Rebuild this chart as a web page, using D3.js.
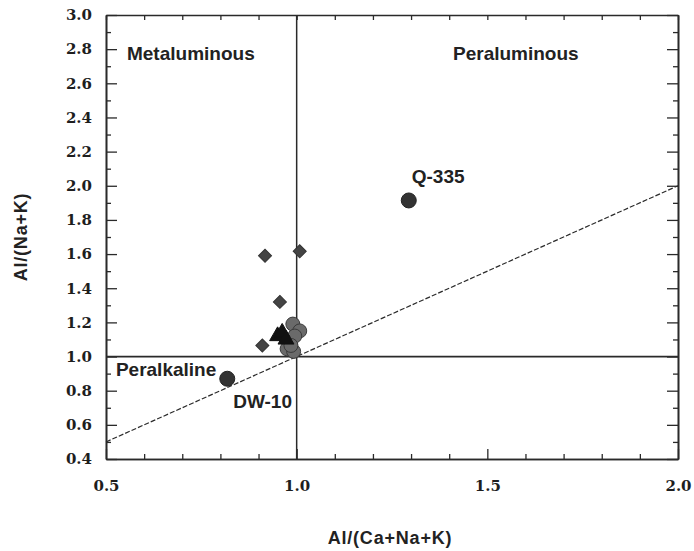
<!DOCTYPE html>
<html>
<head>
<meta charset="utf-8">
<script src="https://cdn.jsdelivr.net/npm/d3@7"></script>
<style>
  html, body { margin: 0; padding: 0; background: #fff; }
  .tick text { font-family: "DejaVu Serif", serif; font-weight: bold; font-size: 15px; fill: #1e1e1e; }
  .lbl { font-family: "Liberation Sans", Arial, sans-serif; font-weight: bold; font-size: 19px; fill: #222; }
</style>
</head>
<body>
<div id="chart"></div>
<script>
// A/CNK vs A/NK diagram

const diamonds = [
  {x: 0.917, y: 1.59},
  {x: 1.008, y: 1.616},
  {x: 0.956, y: 1.32},
  {x: 0.910, y: 1.065}
];

const triangles = [
  {x: 0.950, y: 1.12},
  {x: 0.962, y: 1.14},
  {x: 0.972, y: 1.10}
];

const grayCircles = [
  {x: 0.990, y: 1.19},
  {x: 1.008, y: 1.15},
  {x: 0.995, y: 1.12},
  {x: 0.975, y: 1.045},
  {x: 0.992, y: 1.03},
  {x: 0.985, y: 1.065}
];

const namedSamples = [
  {name: "Q-335", x: 1.294, y: 1.914, dx: 3, dy: -17},
  {name: "DW-10", x: 0.818, y: 0.87, dx: 6, dy: 29}
];

const fields = [
  {name: "Metaluminous", x: 0.555, y: 2.735},
  {name: "Peraluminous", x: 1.41, y: 2.735},
  {name: "Peralkaline", x: 0.526, y: 0.886}
];

const yMajor = [0.4, 0.6, 0.8, 1.0, 1.2, 1.4, 1.6, 1.8, 2.0, 2.2, 2.4, 2.6, 2.8, 3.0];
const yMinor = [0.5, 0.7, 0.9, 1.1, 1.3, 1.5, 1.7, 1.9, 2.1, 2.3, 2.5, 2.7, 2.9];
const xMajor = [0.5, 1.0, 1.5, 2.0];
const xMinor = [0.6, 0.7, 0.8, 0.9, 1.1, 1.2, 1.3, 1.4, 1.6, 1.7, 1.8, 1.9];

const width = 694, height = 551;
const margin = {top: 15, right: 16, bottom: 92, left: 106};

const x = d3.scaleLinear().domain([0.5, 2.0])
    .range([margin.left, width - margin.right]);
const y = d3.scaleLinear().domain([0.4, 3.0])
    .range([height - margin.bottom, margin.top]);

const svg = d3.select("#chart").append("svg")
    .attr("width", width)
    .attr("height", height)
    .attr("viewBox", [0, 0, width, height]);

const ink = "#2a2a2a";

function styleAxis(g) {
  g.select(".domain").attr("stroke", ink).attr("stroke-width", 1.6);
  g.selectAll(".tick line").attr("stroke", ink).attr("stroke-width", 1.3);
}

// left
svg.append("g")
    .attr("transform", `translate(${margin.left},0)`)
    .call(d3.axisLeft(y).tickValues(yMajor).tickSizeInner(-11).tickSizeOuter(0)
      .tickPadding(14).tickFormat(d3.format(".1f")))
    .call(styleAxis);
svg.append("g")
    .attr("transform", `translate(${margin.left},0)`)
    .call(d3.axisLeft(y).tickValues(yMinor).tickSizeInner(-5).tickSizeOuter(0).tickFormat(""))
    .call(styleAxis);

// right
svg.append("g")
    .attr("transform", `translate(${width - margin.right},0)`)
    .call(d3.axisRight(y).tickValues(yMajor).tickSizeInner(-11).tickSizeOuter(0).tickFormat(""))
    .call(styleAxis);
svg.append("g")
    .attr("transform", `translate(${width - margin.right},0)`)
    .call(d3.axisRight(y).tickValues(yMinor).tickSizeInner(-5).tickSizeOuter(0).tickFormat(""))
    .call(styleAxis);

// bottom
svg.append("g")
    .attr("transform", `translate(0,${height - margin.bottom})`)
    .call(d3.axisBottom(x).tickValues(xMajor).tickSizeInner(-10).tickSizeOuter(0)
      .tickPadding(21).tickFormat(d3.format(".1f")))
    .call(styleAxis);
svg.append("g")
    .attr("transform", `translate(0,${height - margin.bottom})`)
    .call(d3.axisBottom(x).tickValues(xMinor).tickSizeInner(-5).tickSizeOuter(0).tickFormat(""))
    .call(styleAxis);

// top
svg.append("g")
    .attr("transform", `translate(0,${margin.top})`)
    .call(d3.axisTop(x).tickValues(xMinor.concat(xMajor)).tickSizeInner(-5).tickSizeOuter(0).tickFormat(""))
    .call(styleAxis);

// field boundaries
svg.append("line")
    .attr("x1", x(1)).attr("x2", x(1))
    .attr("y1", y(0.4)).attr("y2", y(3.0))
    .attr("stroke", ink).attr("stroke-width", 1.5);
svg.append("line")
    .attr("x1", x(0.5)).attr("x2", x(2.0))
    .attr("y1", y(1)).attr("y2", y(1))
    .attr("stroke", ink).attr("stroke-width", 1.8);
svg.append("line")
    .attr("x1", x(0.5)).attr("x2", x(2.0))
    .attr("y1", y(0.5)).attr("y2", y(2.0))
    .attr("stroke", ink).attr("stroke-width", 1.2)
    .attr("stroke-dasharray", "5,2");

// samples
svg.append("g")
  .selectAll("path")
  .data(diamonds)
  .join("path")
    .attr("d", d3.symbol(d3.symbolSquare, 85))
    .attr("transform", d => `translate(${x(d.x)},${y(d.y)}) rotate(45)`)
    .attr("fill", "#444")
    .attr("stroke", "#333")
    .attr("stroke-width", 1);

svg.append("g")
  .selectAll("circle")
  .data(grayCircles)
  .join("circle")
    .attr("cx", d => x(d.x))
    .attr("cy", d => y(d.y))
    .attr("r", 7)
    .attr("fill", "#6a6a6a")
    .attr("stroke", "#3a3a3a")
    .attr("stroke-width", 1);

svg.append("g")
  .selectAll("path")
  .data(triangles)
  .join("path")
    .attr("d", d3.symbol(d3.symbolTriangle, 110))
    .attr("transform", d => `translate(${x(d.x)},${y(d.y)})`)
    .attr("fill", "#111")
    .attr("stroke", "#111");

svg.append("g")
  .selectAll("circle")
  .data(namedSamples)
  .join("circle")
    .attr("cx", d => x(d.x))
    .attr("cy", d => y(d.y))
    .attr("r", 7.5)
    .attr("fill", "#333")
    .attr("stroke", "#222");

svg.append("g")
  .selectAll("text")
  .data(namedSamples)
  .join("text")
    .attr("class", "lbl")
    .attr("x", d => x(d.x) + d.dx)
    .attr("y", d => y(d.y) + d.dy)
    .text(d => d.name);

svg.append("g")
  .selectAll("text")
  .data(fields)
  .join("text")
    .attr("class", "lbl")
    .attr("x", d => x(d.x))
    .attr("y", d => y(d.y))
    .text(d => d.name);

// axis titles
svg.append("text")
    .attr("class", "lbl")
    .attr("x", 390)
    .attr("y", 544)
    .attr("text-anchor", "middle")
    .style("font-size", "18px")
    .style("letter-spacing", "0.8px")
    .text("Al/(Ca+Na+K)");

svg.append("text")
    .attr("class", "lbl")
    .attr("transform", "translate(27,237) rotate(-90)")
    .attr("text-anchor", "middle")
    .style("font-size", "18px")
    .style("letter-spacing", "0.8px")
    .text("Al/(Na+K)");
</script>
</body>
</html>
